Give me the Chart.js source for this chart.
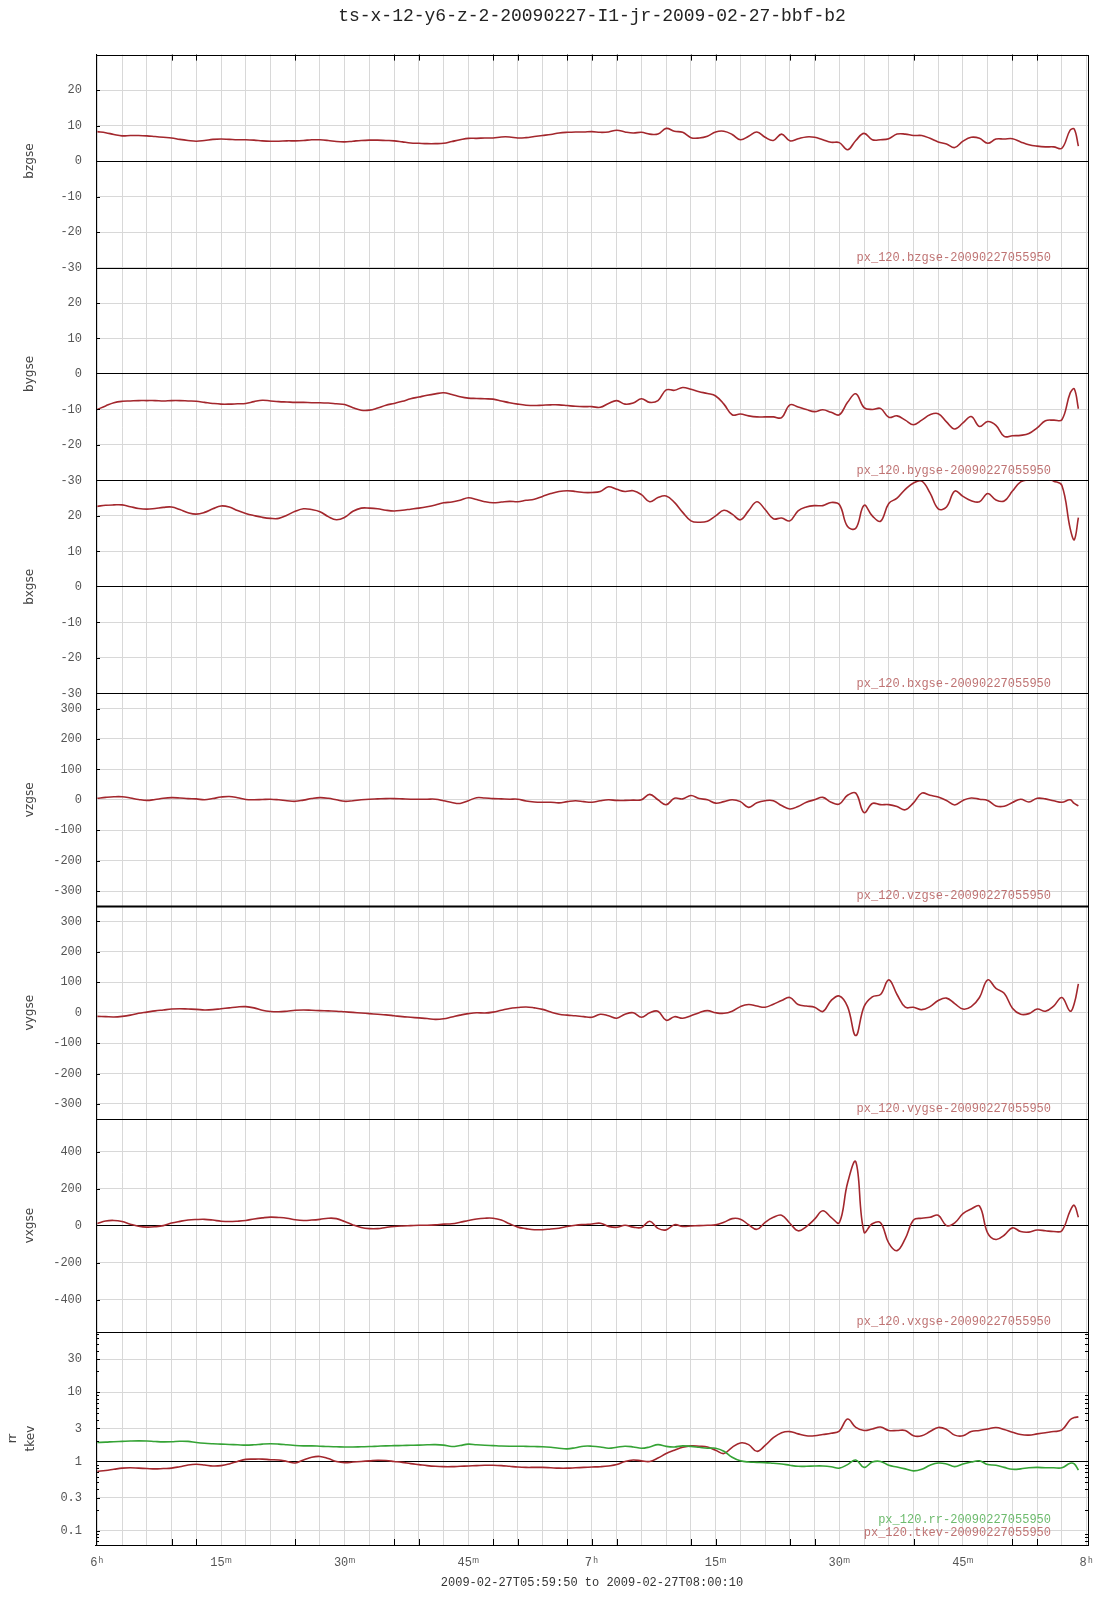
<!DOCTYPE html>
<html lang="en">
<head>
<meta charset="UTF-8">
<title>ts-x-12-y6-z-2-20090227-I1-jr-2009-02-27-bbf-b2</title>
<script src="https://cdn.jsdelivr.net/npm/chart.js"></script>
<style>
  html, body { margin: 0; padding: 0; background: #fff; }
</style>
</head>
<body>
<canvas id="tsChart" width="1107" height="1600"></canvas>
<script>
// time in minutes after 06:00 (data runs from ~06:00 to ~07:59)
const minutes = [0,1,2,3,4,5,6,7,8,9,10,11,12,13,14,15,16,17,18,19,20,21,22,23,24,25,26,27,28,29,
  30,31,32,33,34,35,36,37,38,39,40,41,42,43,44,45,46,47,48,49,50,51,52,53,54,55,56,57,58,59,
  60,61,62,63,64,65,66,67,68,69,70,71,72,73,74,75,76,77,78,79,80,81,82,83,84,85,86,87,88,89,
  90,91,92,93,94,95,96,97,98,99,100,101,102,103,104,105,106,107,108,109,110,111,112,113,114,
  115,116,117,118,118.5,119];

const bzgse = [8.3,8.0,7.5,7.1,7.2,7.2,7.1,6.9,6.7,6.5,
  6.1,5.8,5.6,5.8,6.1,6.2,6.1,6.0,6.0,5.9,
  5.7,5.6,5.6,5.7,5.7,5.8,6.0,6.0,5.8,5.5,
  5.4,5.6,5.8,5.9,5.9,5.8,5.7,5.4,5.1,5.0,
  4.9,4.9,5.0,5.5,6.0,6.4,6.4,6.5,6.5,6.8,
  6.8,6.5,6.6,6.9,7.2,7.5,7.9,8.1,8.2,8.2,
  8.3,8.1,8.2,8.7,8.2,7.9,8.1,7.6,7.6,9.2,
  8.4,8.1,6.6,6.5,7.0,8.2,8.4,7.5,6.0,7.0,
  8.2,6.7,5.8,7.6,5.7,6.3,6.8,6.7,6.0,5.3,
  5.2,3.2,5.8,7.8,6.0,6.0,6.3,7.6,7.6,7.2,
  7.2,6.4,5.4,4.8,3.8,5.6,6.7,6.4,5.0,6.2,
  6.2,6.3,5.4,4.6,4.2,4.0,4.0,3.6,8.7,9.0,4.2];

const bygse = [-10.0,-9.0,-8.1,-7.7,-7.6,-7.5,-7.5,-7.5,-7.6,-7.5,
  -7.5,-7.6,-7.7,-8.0,-8.3,-8.5,-8.5,-8.4,-8.3,-7.8,
  -7.4,-7.6,-7.8,-7.9,-8.0,-8.0,-8.1,-8.1,-8.2,-8.4,
  -8.6,-9.5,-10.2,-10.2,-9.6,-8.8,-8.3,-7.7,-7.0,-6.5,
  -6.0,-5.6,-5.3,-5.8,-6.4,-6.8,-6.9,-7.0,-7.1,-7.6,
  -8.1,-8.5,-8.8,-8.9,-8.8,-8.7,-8.7,-8.9,-9.1,-9.2,
  -9.2,-9.4,-8.3,-7.5,-8.5,-8.2,-7.0,-8.0,-7.5,-4.5,
  -4.6,-3.8,-4.3,-5.0,-5.5,-6.2,-8.5,-11.5,-11.3,-11.8,
  -12.1,-12.1,-12.1,-12.3,-8.7,-9.3,-10.0,-10.6,-10.1,-10.8,
  -11.5,-8.0,-5.6,-9.5,-10.0,-9.7,-12.2,-11.8,-13.0,-14.3,
  -13.0,-11.5,-11.2,-13.5,-15.5,-13.8,-12.0,-14.8,-13.4,-14.5,
  -17.6,-17.4,-17.3,-16.8,-15.2,-13.2,-13.0,-12.9,-5.4,-4.2,-9.8];

const bxgse = [22.7,23.0,23.1,23.1,22.6,22.1,21.9,22.1,22.4,22.5,
  21.8,20.9,20.5,21.0,22.0,22.8,22.5,21.5,20.7,20.1,
  19.6,19.3,19.3,20.2,21.3,22.0,21.8,21.2,19.8,18.9,
  19.6,21.3,22.2,22.2,22.0,21.6,21.4,21.6,21.9,22.2,
  22.6,23.1,23.7,23.9,24.4,25.1,24.6,24.0,23.7,23.9,
  24.1,24.0,24.4,24.7,25.5,26.3,26.9,27.1,26.9,26.6,
  26.6,26.9,28.2,27.5,26.9,27.1,26.0,24.0,25.2,25.6,
  23.8,21.0,18.6,18.2,18.5,20.0,21.6,20.5,18.9,21.5,
  24.0,21.8,19.2,19.4,18.6,21.4,22.5,22.9,22.9,23.8,
  23.2,17.0,16.5,23.0,20.0,18.5,23.5,25.0,27.5,29.3,
  29.8,26.5,22.0,22.5,27.0,25.5,24.3,24.0,26.3,24.5,
  24.2,27.0,29.6,30.2,30.2,30.5,29.8,28.6,16.5,13.3,19.5];

const vzgse = [5,8,10,10,6,1,-2,1,5,7,
  6,4,3,0,4,9,11,7,1,0,
  1,2,0,-3,-5,-1,4,7,5,0,
  -5,-3,0,2,3,4,4,3,2,2,
  2,2,-3,-9,-12,-3,7,6,4,3,
  2,2,-4,-7,-8,-8,-10,-6,-3,-6,
  -8,-3,0,-2,-2,-1,0,18,0,-16,
  5,3,14,4,0,-11,-6,0,-6,-25,
  -10,-3,-3,-19,-30,-22,-8,0,8,-8,
  -14,15,22,-42,-12,-16,-16,-22,-33,-10,
  22,15,9,-2,-17,-2,6,2,-2,-20,
  -21,-9,2,-7,5,3,-3,-8,0,-12,-20];

const vygse = [-12,-13,-14,-12,-8,-2,2,6,9,12,
  13,12,11,9,10,13,16,19,20,16,
  8,4,3,5,8,9,8,7,6,5,
  3,1,-1,-3,-5,-7,-10,-13,-15,-17,
  -19,-22,-20,-14,-8,-3,0,-1,2,8,
  14,17,19,16,11,2,-5,-8,-10,-13,
  -15,-5,-10,-18,-5,0,-15,0,5,-25,
  -13,-18,-10,0,7,0,-2,5,20,27,
  22,18,28,40,50,27,22,18,4,40,
  55,20,-75,20,52,60,108,60,18,18,
  10,20,40,48,30,12,20,50,108,80,
  64,15,-5,-3,12,5,22,50,5,30,95];

const vxgse = [12,25,28,22,8,-3,-8,-6,0,14,
  23,30,33,34,30,24,22,24,28,36,
  42,46,44,40,32,28,30,34,40,38,
  22,4,-10,-16,-16,-10,-5,-2,0,2,
  2,4,8,10,18,28,36,40,40,30,
  10,-8,-16,-22,-22,-18,-14,-5,2,6,
  9,13,-4,-9,2,-8,-10,24,-15,-23,
  5,-4,-2,0,2,4,18,38,35,5,
  -20,18,45,56,13,-28,-5,35,80,45,
  16,230,345,-35,10,16,-95,-135,-70,30,
  40,45,56,0,15,65,90,106,-40,-75,
  -52,-12,-32,-35,-24,-28,-32,-27,80,110,45];

const rr = [1.88,1.90,1.93,1.95,1.97,1.98,1.97,1.94,1.92,1.93,
  1.96,1.95,1.88,1.83,1.80,1.78,1.76,1.74,1.72,1.74,
  1.78,1.80,1.78,1.74,1.70,1.68,1.68,1.66,1.64,1.63,
  1.62,1.62,1.63,1.64,1.66,1.68,1.69,1.70,1.71,1.72,
  1.74,1.75,1.72,1.64,1.70,1.78,1.74,1.71,1.69,1.67,
  1.66,1.66,1.65,1.64,1.63,1.60,1.55,1.52,1.58,1.66,
  1.66,1.62,1.55,1.60,1.66,1.62,1.55,1.62,1.75,1.65,
  1.62,1.68,1.65,1.60,1.55,1.55,1.40,1.15,1.02,0.98,
  0.97,0.96,0.94,0.92,0.88,0.85,0.85,0.86,0.86,0.84,
  0.80,0.90,1.05,0.82,0.98,1.00,0.88,0.83,0.78,0.73,
  0.77,0.88,0.95,0.92,0.84,0.92,0.98,1.02,0.90,0.88,
  0.82,0.77,0.78,0.81,0.82,0.81,0.81,0.81,0.94,0.92,0.75];

const tkev = [0.72,0.74,0.77,0.80,0.81,0.80,0.79,0.78,0.79,0.80,
  0.84,0.89,0.91,0.89,0.86,0.87,0.92,1.00,1.07,1.08,
  1.08,1.06,1.05,1.00,0.95,1.05,1.15,1.18,1.10,1.00,
  0.96,0.98,1.00,1.02,1.04,1.03,1.00,0.97,0.93,0.90,
  0.87,0.85,0.84,0.84,0.85,0.86,0.87,0.88,0.88,0.87,
  0.85,0.83,0.82,0.82,0.82,0.81,0.80,0.80,0.81,0.82,
  0.83,0.84,0.86,0.90,1.00,1.05,1.02,1.00,1.12,1.30,
  1.45,1.60,1.68,1.66,1.62,1.45,1.30,1.60,1.85,1.75,
  1.40,1.70,2.20,2.60,2.70,2.50,2.35,2.35,2.45,2.55,
  2.75,4.10,3.10,2.80,2.95,3.15,2.80,2.80,2.80,2.35,
  2.35,2.70,3.10,2.90,2.40,2.35,2.70,2.80,2.95,3.10,
  2.90,2.65,2.45,2.40,2.50,2.60,2.70,2.85,4.00,4.30,4.40];

// axis ticks
const ticksB = [-30,-20,-10,0,10,20];
const ticksV = [-300,-200,-100,0,100,200,300];
const ticksVx = [-400,-200,0,200,400];
const ticksLog = [0.1,0.3,1,3,10,30];
const logMinor = [0.07,0.08,0.09,0.2,0.4,0.5,0.6,0.7,0.8,0.9,2,4,5,6,7,8,9,20,40,50,60,70];
const xGrid = [0,3,6,9,12,15,18,21,24,27,30,33,36,39,42,45,48,51,54,57,60,
  63,66,69,72,75,78,81,84,87,90,93,96,99,102,105,108,111,114,117,120];
const xLabelAt = [0,15,30,45,60,75,90,105,120];
const xLabelText = ['6ʰ','15ᵐ','30ᵐ','45ᵐ','7ʰ','15ᵐ','30ᵐ','45ᵐ','8ʰ'];
const edgeMarks = [9,12,24,36,39,48,51,57,60,63,72,75,84,87,99,111,114];

const RED = '#a3272d';
const GREEN = '#35a335';
const MONO = "'Liberation Mono', 'DejaVu Sans Mono', monospace";

// panels, top to bottom
const panels = [
  {id: 'yBz', title: 'bzgse', min: -30, max: 30, ticks: ticksB, zero: 0, zeroBlack: true},
  {id: 'yBy', title: 'bygse', min: -30, max: 30, ticks: ticksB, zero: 0, zeroBlack: true},
  {id: 'yBx', title: 'bxgse', min: -30, max: 30, ticks: ticksB, zero: 0, zeroBlack: true},
  {id: 'yVz', title: 'vzgse', min: -350, max: 350, ticks: ticksV, zero: 0, zeroBlack: false},
  {id: 'yVy', title: 'vygse', min: -350, max: 350, ticks: ticksV, zero: 0, zeroBlack: false},
  {id: 'yVx', title: 'vxgse', min: -575, max: 575, ticks: ticksVx, zero: 0, zeroBlack: true},
  {id: 'yT', title: ['rr', 'tkev'], min: 0.062, max: 74, ticks: ticksLog, zero: 1, zeroBlack: true, log: true}
];

const series = [
  {label: 'px_120.bzgse-20090227055950', values: bzgse, axis: 'yBz', color: RED},
  {label: 'px_120.bygse-20090227055950', values: bygse, axis: 'yBy', color: RED},
  {label: 'px_120.bxgse-20090227055950', values: bxgse, axis: 'yBx', color: RED},
  {label: 'px_120.vzgse-20090227055950', values: vzgse, axis: 'yVz', color: RED},
  {label: 'px_120.vygse-20090227055950', values: vygse, axis: 'yVy', color: RED},
  {label: 'px_120.vxgse-20090227055950', values: vxgse, axis: 'yVx', color: RED},
  {label: 'px_120.rr-20090227055950', values: rr, axis: 'yT', color: GREEN},
  {label: 'px_120.tkev-20090227055950', values: tkev, axis: 'yT', color: RED}
];

function yScale(p) {
  const multi = Array.isArray(p.title);
  return {
    type: p.log ? 'logarithmic' : 'linear',
    position: 'left',
    stack: 'panels',
    stackWeight: 1,
    min: p.min,
    max: p.max,
    afterFit: s => { s.width = 96; },
    afterBuildTicks: s => { s.ticks = p.ticks.map(v => ({value: v})); },
    grid: {
      drawTicks: false,
      lineWidth: 1,
      color: c => (p.zeroBlack && c.tick && c.tick.value === p.zero) ? '#000' : '#d8d8d8'
    },
    border: {display: true, color: '#000', width: 1},
    ticks: {
      padding: 14,
      color: '#555',
      font: {family: MONO, size: 12},
      callback: v => String(v)
    },
    title: {
      display: true,
      text: p.title,
      color: '#444',
      font: {family: "'DejaVu Sans', sans-serif", size: 12, lineHeight: multi ? 1.5 : 1.2},
      padding: {top: multi ? 4 : 23, bottom: 0}
    }
  };
}

const scales = {
  x: {
    type: 'linear',
    min: -10 / 60,
    max: 120 + 10 / 60,
    afterFit: s => { s.height = 55; },
    afterBuildTicks: s => { s.ticks = xGrid.map(v => ({value: v})); },
    grid: {color: '#d8d8d8', drawTicks: false},
    border: {color: '#000'},
    ticks: {
      autoSkip: false,
      maxRotation: 0,
      padding: 11,
      color: '#555',
      font: {family: MONO, size: 12},
      callback: v => {
        const i = xLabelAt.indexOf(v);
        return i >= 0 ? xLabelText[i] : '';
      }
    },
    title: {
      display: true,
      text: '2009-02-27T05:59:50 to 2009-02-27T08:00:10',
      color: '#333',
      font: {family: MONO, size: 12},
      padding: {top: 0, bottom: 10}
    }
  }
};
// left-stacked scales are laid out last-defined on top, so add bottom panel first
panels.slice().reverse().forEach(p => { scales[p.id] = yScale(p); });

// keep each line inside its own panel
const panelClip = {
  id: 'panelClip',
  beforeDatasetDraw(chart, args) {
    const s = chart.scales[args.meta.yAxisID];
    const a = chart.chartArea;
    chart.ctx.save();
    chart.ctx.beginPath();
    chart.ctx.rect(a.left, s.top, a.right - a.left, s.bottom - s.top);
    chart.ctx.clip();
  },
  afterDatasetDraw(chart) {
    chart.ctx.restore();
  }
};

// panel borders, little tick marks and the series tags
const panelFrame = {
  id: 'panelFrame',
  beforeDatasetsDraw(chart) {
    const {ctx, chartArea: a} = chart;
    ctx.save();
    ctx.strokeStyle = '#000';
    panels.forEach(p => {
      const s = chart.scales[p.id];
      const y = Math.round(s.bottom) + 0.5;
      ctx.lineWidth = p.id === 'yVz' ? 2 : 1;
      ctx.beginPath();
      ctx.moveTo(a.left, y);
      ctx.lineTo(a.right, y);
      ctx.stroke();
    });
    ctx.lineWidth = 1;
    ctx.strokeRect(Math.round(a.left) + 0.5, Math.round(a.top) + 0.5, Math.round(a.right - a.left), Math.round(a.bottom - a.top));
    ctx.restore();
  },
  afterDraw(chart) {
    const {ctx, chartArea: a} = chart;
    const xs = chart.scales.x;
    ctx.save();
    ctx.strokeStyle = '#000';
    ctx.lineWidth = 1;
    // marks along top and bottom edges
    edgeMarks.forEach(m => {
      const x = Math.round(xs.getPixelForValue(m)) + 0.5;
      ctx.beginPath();
      ctx.moveTo(x, a.top); ctx.lineTo(x, a.top + 6);
      ctx.moveTo(x, a.bottom); ctx.lineTo(x, a.bottom - 6);
      ctx.stroke();
    });
    // small inner marks on the left edge
    panels.forEach(p => {
      const s = chart.scales[p.id];
      p.ticks.forEach(v => {
        if (v === p.zero) return;
        const y = Math.round(s.getPixelForValue(v)) + 0.5;
        ctx.beginPath(); ctx.moveTo(a.left, y); ctx.lineTo(a.left + 4, y); ctx.stroke();
      });
    });
    const sl = chart.scales.yT;
    logMinor.forEach(v => {
      const y = Math.round(sl.getPixelForValue(v)) + 0.5;
      ctx.beginPath();
      ctx.moveTo(a.left, y); ctx.lineTo(a.left + 3, y);
      ctx.moveTo(a.right, y); ctx.lineTo(a.right - 3, y);
      ctx.stroke();
    });
    // tags
    ctx.font = '12px ' + MONO;
    ctx.textAlign = 'right';
    ctx.textBaseline = 'middle';
    const tagX = a.right - 37;
    series.forEach(sr => {
      const s = chart.scales[sr.axis];
      let y = s.bottom - 10;
      if (sr.axis === 'yT') y = sr.color === GREEN ? s.bottom - 25 : s.bottom - 12;
      ctx.fillStyle = sr.color === GREEN ? '#6dbb6d' : '#bf7373';
      ctx.fillText(sr.label, tagX, y);
    });
    ctx.restore();
  }
};

new Chart(document.getElementById('tsChart'), {
  type: 'line',
  data: {
    datasets: series.map(sr => ({
      label: sr.label,
      data: minutes.map((m, i) => ({x: m, y: sr.values[i]})),
      yAxisID: sr.axis,
      borderColor: sr.color,
      borderWidth: 1.6,
      pointRadius: 0,
      tension: 0.4,
      fill: false
    }))
  },
  options: {
    responsive: false,
    devicePixelRatio: 1,
    animation: false,
    events: [],
    layout: {padding: {left: 0, right: 19, top: 0, bottom: 0}},
    plugins: {
      legend: {display: false},
      tooltip: {enabled: false},
      title: {
        display: true,
        fullSize: false,
        text: 'ts-x-12-y6-z-2-20090227-I1-jr-2009-02-27-bbf-b2',
        color: '#222',
        font: {family: MONO, size: 18, weight: 'normal'},
        padding: {top: 5, bottom: 28}
      }
    },
    scales: scales
  },
  plugins: [panelClip, panelFrame]
});
</script>
</body>
</html>
